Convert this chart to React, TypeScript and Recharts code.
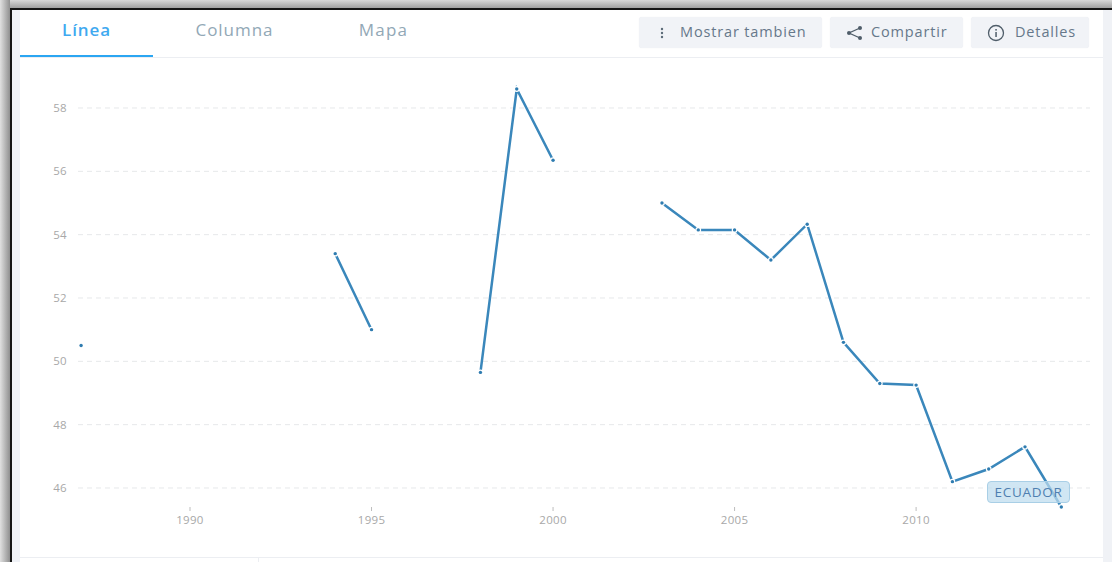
import React from "react";
import { LineChart, Line, XAxis, YAxis, CartesianGrid } from "recharts";

const years = [
  1987, 1988, 1989, 1990, 1991, 1992, 1993, 1994, 1995, 1996, 1997, 1998, 1999, 2000,
  2001, 2002, 2003, 2004, 2005, 2006, 2007, 2008, 2009, 2010, 2011, 2012, 2013, 2014,
];
const ecuador = [
  50.5, null, null, null, null, null, null, 53.4, 51.0, null, null, 49.65, 58.6, 56.35,
  null, null, 55.0, 54.15, 54.15, 53.2, 54.33, 50.6, 49.3, 49.25, 46.2, 46.6, 47.3, 45.4,
];
const xTicks = [1990, 1995, 2000, 2005, 2010];
const yTicks = [46, 48, 50, 52, 54, 56, 58];
const tabs = ["Línea", "Columna", "Mapa"];

const chartData = years.map((year, i) => ({ year, value: ecuador[i] }));

const FONT = "'Open Sans', sans-serif";
const LINE_COLOR = "#3a87bb";

const btn: React.CSSProperties = {
  position: "absolute",
  top: 17,
  height: 31,
  background: "#f1f3f7",
  borderRadius: 3,
  boxShadow: "0 0 1px #e4e7ec",
  color: "#66788a",
  fontSize: 14.5,
  lineHeight: "30px",
  letterSpacing: 0.85,
  whiteSpace: "nowrap",
};

function SeriesDot(props: any) {
  const { cx, cy, value } = props;
  if (value == null || cx == null || cy == null) return null;
  return <circle cx={cx} cy={cy} r={1.7} fill="#2f7cb0" stroke="#fff" strokeWidth={2.4} paintOrder="stroke" />;
}

export default function App() {
  return (
    <div style={{ position: "fixed", left: 0, top: 0, width: 1112, height: 562, background: "#fff", overflow: "hidden", fontFamily: FONT }}>
      {/* screenshot frame */}
      <div style={{ position: "absolute", left: 0, top: 0, width: 1112, height: 8, background: "linear-gradient(#d8d8d8, #a0a0a0)" }} />
      <div style={{ position: "absolute", left: 0, top: 0, width: 10, height: 562, background: "linear-gradient(90deg, #e0e0e0, #8f8f8f)" }} />
      <div style={{ position: "absolute", left: 10, top: 8, width: 1102, height: 2, background: "#151515" }} />
      <div style={{ position: "absolute", left: 10, top: 8, width: 2, height: 554, background: "#151515" }} />
      <div style={{ position: "absolute", left: 12, top: 10, width: 8, height: 552, background: "#eff1f6" }} />
      <div style={{ position: "absolute", left: 1103, top: 10, width: 9, height: 552, background: "#f0f2f6" }} />

      {/* tabs */}
      <div style={{ position: "absolute", left: 20, top: 57, width: 1083, height: 1, background: "#eceef2" }} />
      <div style={{ position: "absolute", left: 20, top: 55, width: 133, height: 2, background: "#2ba6f2" }} />
      {tabs.map((t, i) => (
        <div
          key={t}
          style={{
            position: "absolute",
            left: [20, 153, 317][i],
            width: [133, 163, 133][i],
            top: 18,
            textAlign: "center",
            fontSize: 17,
            lineHeight: "24px",
            letterSpacing: [0.9, 0.95, 1.2][i],
            fontWeight: i === 0 ? 600 : 400,
            color: i === 0 ? "#3fa9f0" : "#92a8b6",
          }}
        >
          {t}
        </div>
      ))}

      {/* toolbar */}
      <div style={{ ...btn, left: 639, width: 183 }}>
        <svg width="4" height="12" style={{ position: "absolute", left: 21, top: 10 }}>
          <circle cx="2" cy="2" r="1.2" fill="#5c6b78" />
          <circle cx="2" cy="6" r="1.2" fill="#5c6b78" />
          <circle cx="2" cy="10" r="1.2" fill="#5c6b78" />
        </svg>
        <span style={{ position: "absolute", left: 41 }}>Mostrar tambien</span>
      </div>
      <div style={{ ...btn, left: 830, width: 133 }}>
        <svg width="18" height="16" style={{ position: "absolute", left: 16, top: 8 }}>
          <path d="M14 3 L3 8 L14 13" fill="none" stroke="#4f5d69" strokeWidth="1.3" />
          <circle cx="14" cy="3" r="2" fill="#4f5d69" />
          <circle cx="3" cy="8" r="2" fill="#4f5d69" />
          <circle cx="14" cy="13" r="2" fill="#4f5d69" />
        </svg>
        <span style={{ position: "absolute", left: 41 }}>Compartir</span>
      </div>
      <div style={{ ...btn, left: 971, width: 118 }}>
        <svg width="18" height="18" style={{ position: "absolute", left: 16, top: 7 }}>
          <circle cx="9" cy="9" r="7.5" fill="none" stroke="#4f5d69" strokeWidth="1.3" />
          <rect x="8.3" y="8" width="1.5" height="5" fill="#4f5d69" />
          <rect x="8.3" y="5" width="1.5" height="1.6" fill="#4f5d69" />
        </svg>
        <span style={{ position: "absolute", left: 44 }}>Detalles</span>
      </div>

      {/* chart */}
      <div style={{ position: "absolute", left: 0, top: 0 }}>
        <LineChart width={1112} height={562} data={chartData} margin={{ top: 44.66, right: 22, bottom: 25, left: 38 }}>
          <CartesianGrid horizontal vertical={false} horizontalValues={yTicks} stroke="#e6e8ea" strokeDasharray="5 4" />
          <XAxis
            dataKey="year"
            type="number"
            domain={[1986.915, 2014.79]}
            ticks={xTicks}
            height={30}
            axisLine={false}
            tickSize={4}
            tickMargin={5}
            tickLine={{ stroke: "#bdbdbd" }}
            tick={{ fontSize: 11.5, fill: "#a8a8a8", fontFamily: FONT, letterSpacing: 0.3 }}
          />
          <YAxis
            type="number"
            domain={[45.4, 60]}
            ticks={yTicks}
            width={40}
            axisLine={false}
            tickLine={false}
            tickSize={0}
            tickMargin={11}
            tick={{ fontSize: 11.5, fill: "#a8a8a8", fontFamily: FONT, letterSpacing: 0.3 }}
          />
          <Line
            dataKey="value"
            type="linear"
            stroke={LINE_COLOR}
            strokeWidth={2.5}
            connectNulls={false}
            dot={<SeriesDot />}
            activeDot={false}
            isAnimationActive={false}
          />
        </LineChart>
      </div>

      {/* series label */}
      <div
        style={{
          position: "absolute",
          left: 987,
          top: 481,
          width: 81,
          height: 20,
          background: "rgba(190, 220, 238, 0.72)",
          border: "1px solid #a9cfe6",
          borderRadius: 4,
          color: "#4f7fb0",
          fontSize: 13.5,
          lineHeight: "21px",
          letterSpacing: 0.7,
          textAlign: "center",
        }}
      >
        ECUADOR
      </div>

      {/* bottom rule of the card */}
      <div style={{ position: "absolute", left: 20, top: 557, width: 1083, height: 1, background: "#eceef2" }} />
      <div style={{ position: "absolute", left: 258, top: 557, width: 1, height: 5, background: "#eceef2" }} />
    </div>
  );
}
